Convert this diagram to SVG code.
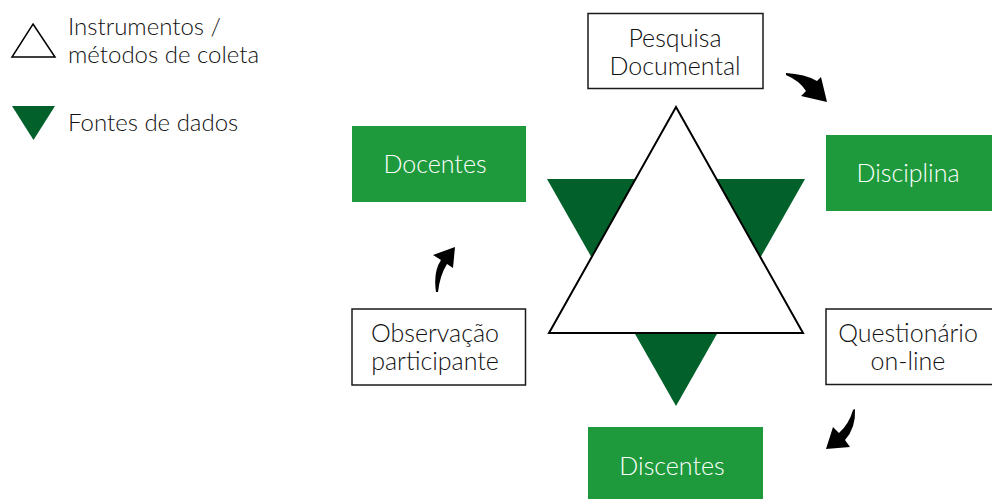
<svg xmlns="http://www.w3.org/2000/svg" width="992" height="499" viewBox="0 0 992 499">
<style>
  text { font-family: Lato, "Noto Sans", sans-serif; font-size: 25px; font-weight: 300; text-anchor: middle; }
  .dark { fill: #111111; }
  .light { fill: #ffffff; }
  .src { fill: #1e9a3c; }
  .inst { fill: #ffffff; stroke: #1a1a1a; stroke-width: 1.5; }
  .leg { text-anchor: start; fill: #111111; font-size: 24px; }
  .arrow { fill: #000000; }
</style>
<rect width="992" height="499" fill="#ffffff"/>
<g id="legend">
  <polygon points="33,24 55,57 12,57" fill="#ffffff" stroke="#000" stroke-width="1.5"/>
  <text class="leg" x="68" y="35">Instrumentos /</text>
  <text class="leg" x="68" y="63">métodos de coleta</text>
  <polygon points="12,106 55,106 33.5,140" fill="#02602a"/>
  <text class="leg" x="68" y="131">Fontes de dados</text>
</g>
<g id="star">
  <polygon points="547,179 805,179 676,406" fill="#02602a"/>
  <polygon points="676,107 803,333 549,333" fill="#ffffff" stroke="#000" stroke-width="2"/>
</g>
<g id="pesquisa">
  <rect class="inst" x="588" y="13.5" width="175" height="75"/>
  <text class="dark" x="675" y="47">Pesquisa</text>
  <text class="dark" x="675" y="75">Documental</text>
</g>
<g id="docentes">
  <rect class="src" x="352" y="126" width="174" height="76"/>
  <text class="light" x="435" y="173">Docentes</text>
</g>
<g id="disciplina">
  <rect class="src" x="826" y="135" width="175" height="76"/>
  <text class="light" x="908" y="182">Disciplina</text>
</g>
<g id="observacao">
  <rect class="inst" x="352" y="309" width="173.5" height="76"/>
  <text class="dark" x="435" y="342">Observação</text>
  <text class="dark" x="435" y="370">participante</text>
</g>
<g id="questionario">
  <rect class="inst" x="826" y="309" width="175" height="75.5"/>
  <text class="dark" x="908" y="342">Questionário</text>
  <text class="dark" x="908" y="370">on-line</text>
</g>
<g id="discentes">
  <rect class="src" x="588" y="427" width="175" height="76"/>
  <text class="light" x="672" y="475">Discentes</text>
</g>
<g id="connectors">
  <path class="arrow" d="M786,73 Q805,74 817,81 L821,77 L827,102 L801,96 L806,91 Q800,81 786,75 Z"/>
  <path class="arrow" d="M436,292 Q433,272 441,260 L433,255 L455,247 L453,268 L447,264 Q440,275 438,292 Z"/>
  <path class="arrow" d="M855,409 Q856,428 845,440 L850,447 L826,449 L833,427 L839,433 Q849,424 853,410 Z"/>
</g>
</svg>
